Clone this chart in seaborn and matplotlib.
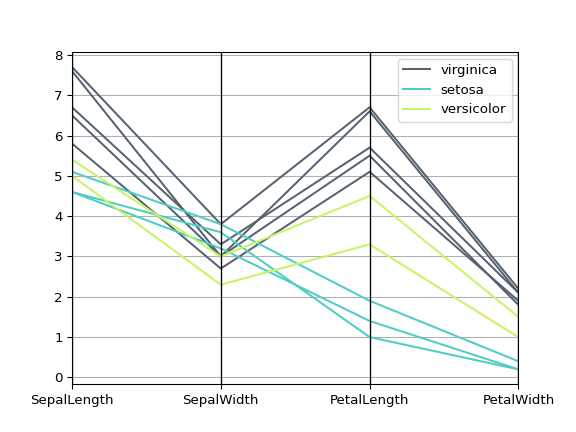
import pandas as pd
import matplotlib
matplotlib.use('Agg')
import matplotlib.pyplot as plt
import seaborn as sns

features = ['SepalLength', 'SepalWidth', 'PetalLength', 'PetalWidth']
names = ['virginica', 'virginica', 'setosa', 'virginica', 'versicolor',
         'setosa', 'virginica', 'versicolor', 'virginica', 'setosa']
sepal_length = [7.7, 7.6, 5.1, 6.7, 5.4, 4.6, 6.5, 5.0, 5.8, 4.6]
sepal_width = [3.8, 3.0, 3.8, 3.3, 3.0, 3.6, 3.0, 2.3, 2.7, 3.2]
petal_length = [6.7, 6.6, 1.9, 5.7, 4.5, 1.0, 5.5, 3.3, 5.1, 1.4]
petal_width = [2.2, 2.1, 0.4, 2.1, 1.5, 0.2, 1.8, 1.0, 1.9, 0.2]
colors = {'virginica': '#556270', 'setosa': '#4ECDC4', 'versicolor': '#C7F464'}

df = pd.DataFrame({'Name': names, 'SepalLength': sepal_length, 'SepalWidth': sepal_width,
                   'PetalLength': petal_length, 'PetalWidth': petal_width})
df['row'] = range(len(df))
long = df.melt(id_vars=['row', 'Name'], value_vars=features, var_name='feature', value_name='value')
long['x'] = long['feature'].map({f: i for i, f in enumerate(features)})

fig, ax = plt.subplots(figsize=(6, 4.5), dpi=96)
sns.lineplot(data=long, x='x', y='value', hue='Name', units='row', estimator=None,
             palette=colors, hue_order=['virginica', 'setosa', 'versicolor'], ax=ax)

for i in range(len(features)):
    ax.axvline(i, color='black', linewidth=1)
ax.set_xticks(range(len(features)))
ax.set_xticklabels(features)
ax.set_xlim(0, len(features) - 1)
ax.grid(axis='y', color='#b0b0b0')
ax.set_xlabel('')
ax.set_ylabel('')
ax.legend(loc='upper right')

plt.savefig('out.png')
